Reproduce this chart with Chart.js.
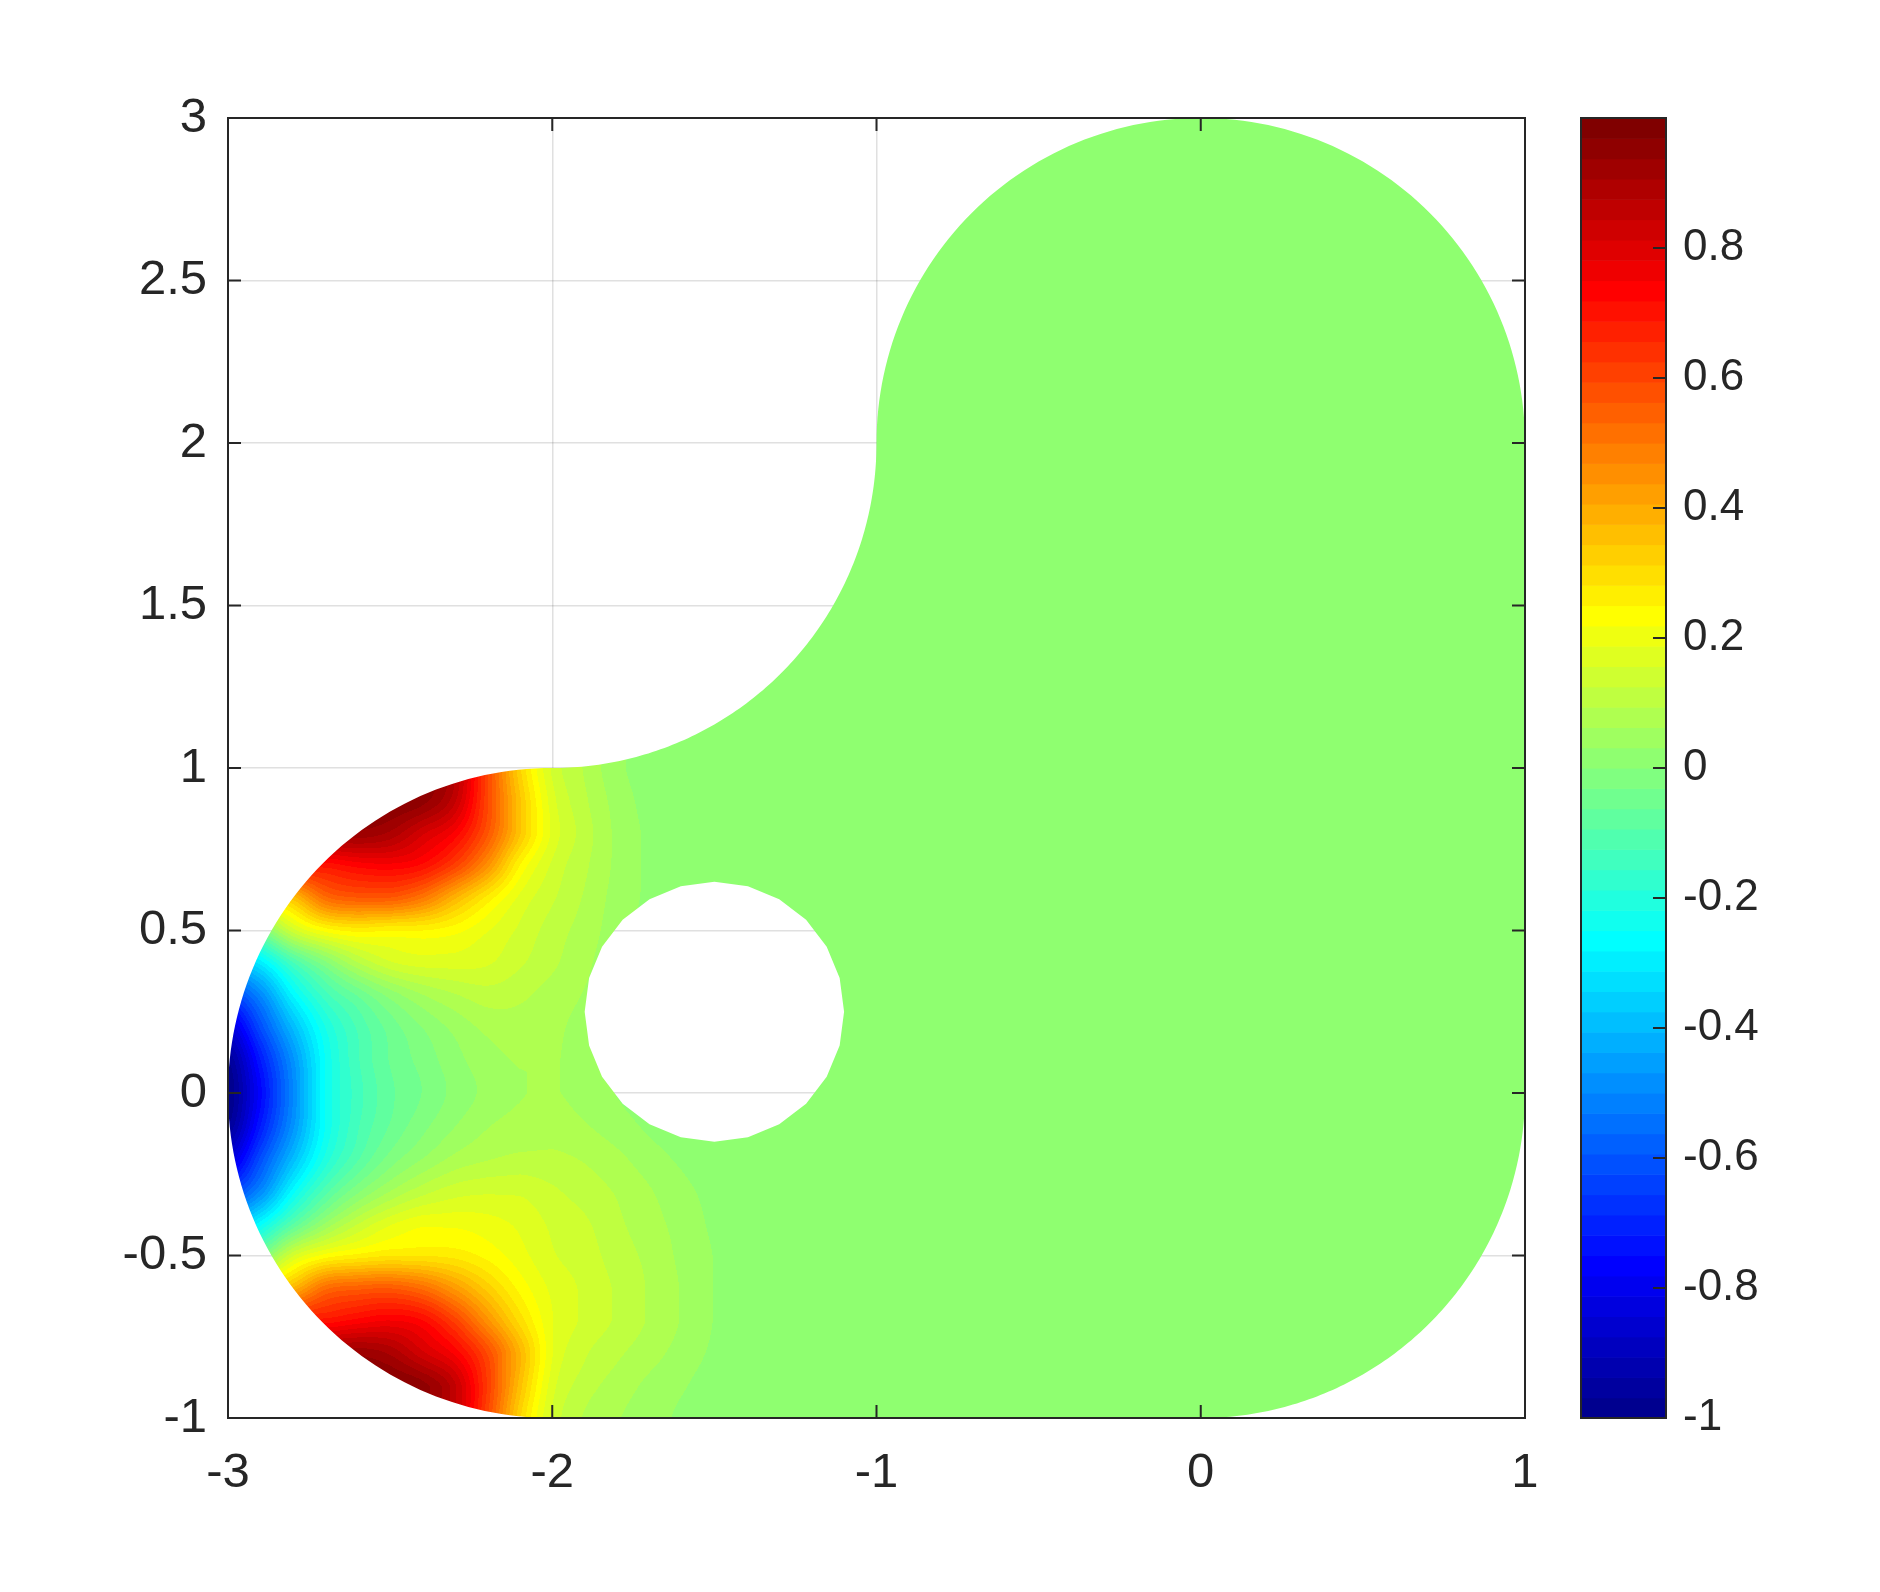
<!DOCTYPE html>
<html>
<head>
<meta charset="utf-8">
<script src="https://cdn.jsdelivr.net/npm/chart.js@4.4.1/dist/chart.umd.min.js"></script>
<style>
html,body{margin:0;padding:0;background:#ffffff;}
#wrap{position:relative;width:1880px;height:1592px;}
canvas{display:block;}
</style>
</head>
<body>
<div id="wrap"><canvas id="c" width="1880" height="1592"></canvas></div>
<script>
// ---------------- DATA ----------------
const xTicks = [-3, -2, -1, 0, 1];
const yTicks = [-1, -0.5, 0, 0.5, 1, 1.5, 2, 2.5, 3];
const cbTicks = [-1, -0.8, -0.6, -0.4, -0.2, 0, 0.2, 0.4, 0.6, 0.8];
const colorLimits = [-1, 1];
const fieldBackground = 0;

// sample columns (x) of the solution
const gridX = [-3.0, -2.9, -2.8, -2.7, -2.6, -2.5, -2.4, -2.3, -2.2, -2.1, -2.0, -1.9, -1.8, -1.7, -1.6, -1.5, -1.4];
// sample rows (y), top to bottom
const gridY = [1.0, 0.9, 0.8, 0.7, 0.6, 0.5, 0.4, 0.3, 0.2, 0.1, 0.0, -0.1, -0.2, -0.3, -0.4, -0.5, -0.6, -0.7, -0.8, -0.9, -1.0];

const u_y_p10 = [0.95, 0.95, 0.95, 0.95, 0.95, 0.95, 0.95, 0.88, 0.60, 0.32, 0.15, 0.09, 0.04, 0.015, 0.005, 0, 0];
const u_y_p09 = [0.97, 0.97, 0.97, 0.97, 0.97, 0.97, 0.95, 0.85, 0.60, 0.35, 0.17, 0.10, 0.05, 0.02, 0.01, 0, 0];
const u_y_p08 = [0.93, 0.93, 0.93, 0.93, 0.93, 0.90, 0.82, 0.74, 0.57, 0.35, 0.18, 0.11, 0.055, 0.025, 0.01, 0, 0];
const u_y_p07 = [0.70, 0.70, 0.70, 0.70, 0.73, 0.74, 0.71, 0.61, 0.45, 0.25, 0.15, 0.10, 0.055, 0.025, 0.01, 0, 0];
const u_y_p06 = [0.30, 0.30, 0.36, 0.52, 0.56, 0.56, 0.50, 0.38, 0.27, 0.18, 0.13, 0.09, 0.05, 0.025, 0.01, 0.01, 0];
const u_y_p05 = [-0.15, -0.03, 0.14, 0.23, 0.26, 0.25, 0.25, 0.23, 0.19, 0.15, 0.11, 0.08, 0.045, 0.02, 0.01, 0.01, 0];
const u_y_p04 = [-0.40, -0.30, -0.13, -0.01, 0.09, 0.15, 0.17, 0.17, 0.16, 0.13, 0.10, 0.07, 0.04, 0.02, 0.01, 0.01, 0];
const u_y_p03 = [-0.65, -0.50, -0.28, -0.14, -0.06, 0.01, 0.06, 0.09, 0.11, 0.10, 0.08, 0.06, 0.035, 0.02, 0.01, 0.01, 0];
const u_y_p02 = [-0.85, -0.62, -0.40, -0.22, -0.12, -0.05, 0.00, 0.04, 0.07, 0.08, 0.07, 0.05, 0.03, 0.02, 0.01, 0.01, 0];
const u_y_p01 = [-0.97, -0.72, -0.48, -0.25, -0.13, -0.06, -0.02, 0.02, 0.05, 0.065, 0.065, 0.05, 0.03, 0.015, 0.01, 0, 0];
const u_y_000 = [-1.00, -0.76, -0.50, -0.25, -0.14, -0.07, -0.03, 0.01, 0.04, 0.06, 0.065, 0.05, 0.03, 0.015, 0.01, 0, 0];
const u_y_m01 = [-0.97, -0.72, -0.48, -0.25, -0.13, -0.06, -0.01, 0.03, 0.06, 0.075, 0.08, 0.065, 0.045, 0.025, 0.01, 0, 0];
const u_y_m02 = [-0.85, -0.62, -0.40, -0.21, -0.10, -0.02, 0.03, 0.07, 0.09, 0.10, 0.10, 0.09, 0.07, 0.045, 0.025, 0.01, 0];
const u_y_m03 = [-0.65, -0.50, -0.27, -0.11, -0.01, 0.06, 0.11, 0.14, 0.15, 0.15, 0.13, 0.11, 0.09, 0.065, 0.04, 0.02, 0.005];
const u_y_m04 = [-0.40, -0.27, -0.10, 0.03, 0.12, 0.18, 0.21, 0.21, 0.20, 0.18, 0.15, 0.13, 0.10, 0.075, 0.05, 0.025, 0.01];
const u_y_m05 = [-0.15, -0.03, 0.15, 0.23, 0.26, 0.28, 0.28, 0.27, 0.24, 0.20, 0.16, 0.14, 0.11, 0.085, 0.055, 0.03, 0.01];
const u_y_m06 = [0.30, 0.30, 0.38, 0.52, 0.55, 0.56, 0.52, 0.43, 0.33, 0.24, 0.18, 0.15, 0.12, 0.09, 0.06, 0.03, 0.01];
const u_y_m07 = [0.70, 0.70, 0.70, 0.70, 0.73, 0.75, 0.72, 0.61, 0.45, 0.30, 0.19, 0.15, 0.12, 0.09, 0.06, 0.03, 0.01];
const u_y_m08 = [0.93, 0.93, 0.93, 0.93, 0.93, 0.90, 0.82, 0.74, 0.59, 0.38, 0.19, 0.13, 0.10, 0.075, 0.05, 0.025, 0.01];
const u_y_m09 = [0.97, 0.97, 0.97, 0.97, 0.97, 0.97, 0.95, 0.85, 0.62, 0.36, 0.17, 0.11, 0.08, 0.055, 0.035, 0.015, 0.005];
const u_y_m10 = [0.95, 0.95, 0.95, 0.95, 0.95, 0.95, 0.95, 0.85, 0.60, 0.32, 0.15, 0.09, 0.065, 0.045, 0.025, 0.01, 0];

// domain outline: consecutive circular arcs (joined by straight edges)
const outlineCx = [-2, 0, 0, -2];
const outlineCy = [0, 0, 2, 2];
const outlineR  = [1, 1, 1, 1];
const outlineA0 = [90, -90, 0, 0];
const outlineA1 = [270, 0, 180, -90];
// hole
const holeCenter = [-1.5, 0.25];
const holeRadius = 0.4;
const holeSides = 24;

// ---------------- RENDERING ----------------
const uRows = [u_y_p10, u_y_p09, u_y_p08, u_y_p07, u_y_p06, u_y_p05, u_y_p04, u_y_p03, u_y_p02, u_y_p01,
  u_y_000, u_y_m01, u_y_m02, u_y_m03, u_y_m04, u_y_m05, u_y_m06, u_y_m07, u_y_m08, u_y_m09, u_y_m10];

function buildJet(m) {
  const n = Math.ceil(m / 4);
  const u = [];
  for (let i = 1; i <= n; i++) u.push(i / n);
  for (let i = 0; i < n - 1; i++) u.push(1);
  for (let i = n; i >= 1; i--) u.push(i / n);
  const g0 = Math.ceil(n / 2) - (m % 4 === 1 ? 1 : 0);
  const J = Array.from({length: m}, () => [0, 0, 0]);
  u.forEach((v, k) => {
    const g = g0 + k + 1, r = g + n, b = g - n;
    if (r >= 1 && r <= m) J[r - 1][0] = v;
    if (g >= 1 && g <= m) J[g - 1][1] = v;
    if (b >= 1 && b <= m) J[b - 1][2] = v;
  });
  return J.map(c => c.map(x => Math.round(x * 255)));
}
const JET = buildJet(64);
function colorIndex(v) {
  let i = Math.floor((v - colorLimits[0]) / (colorLimits[1] - colorLimits[0]) * 64 + 1e-9);
  return Math.max(0, Math.min(63, i));
}
// smooth (Catmull-Rom) drawing between neighbouring samples, without overshoot
function cr(p0, p1, p2, p3, t) {
  const v = p1 + 0.5 * t * (p2 - p0 + t * (2 * p0 - 5 * p1 + 4 * p2 - p3 + t * (3 * (p1 - p2) + p3 - p0)));
  const lo = Math.min(p1, p2), hi = Math.max(p1, p2);
  return v < lo ? lo : (v > hi ? hi : v);
}
function fieldAt(x, y) {
  const nx = gridX.length, ny = gridY.length;
  if (x > gridX[nx - 1]) return fieldBackground;
  let fx = (x - gridX[0]) / (gridX[1] - gridX[0]);
  if (fx < 0) fx = 0;
  let fy = (gridY[0] - y) / (gridY[0] - gridY[1]);
  if (fy < 0) fy = 0;
  if (fy > ny - 1) fy = ny - 1;
  const i = Math.min(Math.floor(fx), nx - 2), j = Math.min(Math.floor(fy), ny - 2);
  const tx = fx - i, ty = fy - j;
  const ci = k => Math.max(0, Math.min(nx - 1, k));
  const cj = k => Math.max(0, Math.min(ny - 1, k));
  const rowVal = r => { const R = uRows[cj(r)]; return cr(R[ci(i - 1)], R[ci(i)], R[ci(i + 1)], R[ci(i + 2)], tx); };
  return cr(rowVal(j - 1), rowVal(j), rowVal(j + 1), rowVal(j + 2), ty);
}
function traceDomain(ctx, xs, ys) {
  ctx.beginPath();
  for (let k = 0; k < outlineCx.length; k++) {
    const n = 120;
    for (let s = 0; s <= n; s++) {
      const a = (outlineA0[k] + (outlineA1[k] - outlineA0[k]) * s / n) * Math.PI / 180;
      const px = xs.getPixelForValue(outlineCx[k] + outlineR[k] * Math.cos(a));
      const py = ys.getPixelForValue(outlineCy[k] + outlineR[k] * Math.sin(a));
      if (k === 0 && s === 0) ctx.moveTo(px, py); else ctx.lineTo(px, py);
    }
  }
  ctx.closePath();
  for (let s = 0; s < holeSides; s++) {
    const a = s * 2 * Math.PI / holeSides;
    const px = xs.getPixelForValue(holeCenter[0] + holeRadius * Math.cos(a));
    const py = ys.getPixelForValue(holeCenter[1] + holeRadius * Math.sin(a));
    if (s === 0) ctx.moveTo(px, py); else ctx.lineTo(px, py);
  }
  ctx.closePath();
}

const AX = '#262626';
const fieldPlugin = {
  id: 'field',
  beforeDatasetsDraw(chart) {
    const ctx = chart.ctx, ca = chart.chartArea;
    const xs = chart.scales.x, ys = chart.scales.y;
    const W = Math.ceil(ca.right - ca.left), H = Math.ceil(ca.bottom - ca.top);
    const off = document.createElement('canvas');
    off.width = W; off.height = H;
    const octx = off.getContext('2d');
    const img = octx.createImageData(W, H);
    const colX = new Float64Array(W);
    for (let px = 0; px < W; px++) colX[px] = xs.getValueForPixel(ca.left + px + 0.5);
    for (let py = 0; py < H; py++) {
      const y = ys.getValueForPixel(ca.top + py + 0.5);
      for (let px = 0; px < W; px++) {
        const c = JET[colorIndex(fieldAt(colX[px], y))];
        const o = (py * W + px) * 4;
        img.data[o] = c[0]; img.data[o + 1] = c[1]; img.data[o + 2] = c[2]; img.data[o + 3] = 255;
      }
    }
    octx.putImageData(img, 0, 0);
    ctx.save();
    traceDomain(ctx, xs, ys);
    ctx.clip('evenodd');
    ctx.drawImage(off, ca.left, ca.top);
    ctx.restore();
  },
  afterDraw(chart) {
    const ctx = chart.ctx, ca = chart.chartArea;
    const xs = chart.scales.x, ys = chart.scales.y, cb = chart.scales.cb;
    const tl = 13;
    ctx.save();
    ctx.strokeStyle = AX; ctx.lineWidth = 2;
    ctx.strokeRect(ca.left, ca.top, ca.right - ca.left, ca.bottom - ca.top);
    ctx.beginPath();
    xTicks.forEach(v => {
      const p = xs.getPixelForValue(v);
      ctx.moveTo(p, ca.bottom); ctx.lineTo(p, ca.bottom - tl);
      ctx.moveTo(p, ca.top); ctx.lineTo(p, ca.top + tl);
    });
    yTicks.forEach(v => {
      const p = ys.getPixelForValue(v);
      ctx.moveTo(ca.left, p); ctx.lineTo(ca.left + tl, p);
      ctx.moveTo(ca.right, p); ctx.lineTo(ca.right - tl, p);
    });
    ctx.stroke();
    // colorbar
    const L = cb.left + 56, R = cb.left + 141;
    const step = (colorLimits[1] - colorLimits[0]) / 64;
    for (let i = 0; i < 64; i++) {
      const y0 = cb.getPixelForValue(colorLimits[0] + i * step);
      const y1 = cb.getPixelForValue(colorLimits[0] + (i + 1) * step);
      const c = JET[i];
      ctx.fillStyle = 'rgb(' + c[0] + ',' + c[1] + ',' + c[2] + ')';
      ctx.fillRect(L, y1, R - L, y0 - y1 + 0.6);
    }
    const cTop = cb.getPixelForValue(colorLimits[1]), cBot = cb.getPixelForValue(colorLimits[0]);
    ctx.strokeRect(L, cTop, R - L, cBot - cTop);
    ctx.beginPath();
    cbTicks.forEach(v => {
      const p = cb.getPixelForValue(v);
      ctx.moveTo(R, p); ctx.lineTo(R - tl, p);
    });
    ctx.stroke();
    ctx.restore();
  }
};

const FONT = "'Liberation Sans', Arial, Helvetica, sans-serif";
const gridStyle = {color: 'rgba(38,38,38,0.14)', lineWidth: 1.5, drawTicks: false};
const noVPad = s => { s.paddingTop = 0; s.paddingBottom = 0; };

new Chart(document.getElementById('c'), {
  type: 'scatter',
  data: {datasets: [{data: [], pointRadius: 0}]},
  options: {
    responsive: false,
    animation: false,
    events: [],
    layout: {padding: {top: 118, left: 0, right: 0, bottom: 0}},
    plugins: {legend: {display: false}, tooltip: {enabled: false}},
    scales: {
      x: {
        type: 'linear', position: 'bottom', min: xTicks[0], max: xTicks[xTicks.length - 1],
        afterBuildTicks: s => { s.ticks = xTicks.map(v => ({value: v})); },
        afterFit: s => { s.height = 174; s.paddingLeft = 0; s.paddingRight = 0; },
        grid: gridStyle,
        border: {display: false},
        ticks: {font: {family: FONT, size: 49}, color: AX, padding: 26, maxRotation: 0, autoSkip: false,
          callback: v => String(v)}
      },
      y: {
        type: 'linear', position: 'left', min: yTicks[0], max: yTicks[yTicks.length - 1],
        afterBuildTicks: s => { s.ticks = yTicks.map(v => ({value: v})); },
        afterFit: s => { s.width = 228; noVPad(s); },
        grid: gridStyle,
        border: {display: false},
        ticks: {font: {family: FONT, size: 49}, color: AX, padding: 21, autoSkip: false,
          callback: v => String(v)}
      },
      cb: {
        type: 'linear', position: 'right', min: colorLimits[0], max: colorLimits[1],
        afterBuildTicks: s => { s.ticks = cbTicks.map(v => ({value: v})); },
        afterFit: s => { s.width = 355; noVPad(s); },
        grid: {display: false, drawTicks: false},
        border: {display: false},
        ticks: {font: {family: FONT, size: 44}, color: AX, padding: 158, autoSkip: false,
          callback: v => String(v)}
      }
    }
  },
  plugins: [fieldPlugin]
});
</script>
</body>
</html>
